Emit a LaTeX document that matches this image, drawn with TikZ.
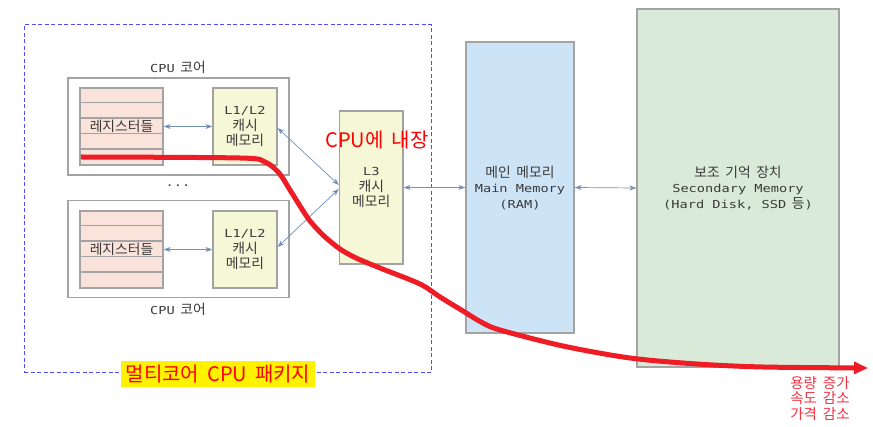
\documentclass[tikz,border=0pt]{standalone}
\usepackage{fontspec}
\setmainfont{DejaVu Sans}
\newfontfamily\kr[WordSpace=2.2]{Noto Sans CJK KR}
\newfontfamily\krbig[WordSpace=1.8]{Noto Sans CJK KR}
\newfontfamily\mn[FakeStretch=1.24]{DejaVu Sans Mono}
\newcommand\mnt[1]{{\mn\fontsize{11}{15.5}\selectfont #1}}
\usetikzlibrary{arrows.meta}
\definecolor{boxgray}{HTML}{A3A3A3}
\definecolor{regfill}{HTML}{FAE3DA}
\definecolor{cachefill}{HTML}{F5F7D7}
\definecolor{mainfill}{HTML}{CDE4F7}
\definecolor{secfill}{HTML}{D9EBD8}
\definecolor{txtgray}{HTML}{3A3A3A}
\definecolor{arrblue}{HTML}{7090B8}
\definecolor{dashblue}{HTML}{4D4DFF}
\definecolor{trendred}{HTML}{EE1C25}
\definecolor{lightred}{HTML}{EE3344}
\begin{document}
\begin{tikzpicture}[x=1pt,y=-1pt,
  box/.style={draw=boxgray,line width=1.3pt,rectangle,inner sep=0pt,anchor=center},
  corebox/.style={box,minimum width=221pt,minimum height=97pt},
  regbox/.style={box,fill=regfill,minimum width=83pt,minimum height=77pt},
  cachebox/.style={box,fill=cachefill,text=txtgray,align=center,
    font={\kr\fontsize{13.8}{15.5}\selectfont}},
  memtext/.style={text=txtgray,align=center,font={\kr\fontsize{13.8}{15.5}\selectfont}},
  lbl/.style={text=txtgray,inner sep=0pt,font={\kr\fontsize{13.8}{15.5}\selectfont}},
  pkgbox/.style={draw=dashblue,line width=1pt,dash pattern=on 4pt off 2.5pt,
    minimum width=407pt,minimum height=348pt,inner sep=0pt},
  conn/.style={draw=arrblue,line width=0.7pt,{Stealth[length=7pt,width=5pt]}-{Stealth[length=7pt,width=5pt]}},
  trendline/.style={draw=trendred,line width=5pt,-{Triangle[length=14pt,width=12pt]}},
]
\useasboundingbox (0,0) rectangle (873,427);

% package
\node[pkgbox] (pkg) at (227.5,199) {};

% core 1
\node[corebox] (core1) at (178.5,126.5) {};
\node[regbox] (reg1) at (121.5,126.5) {};
\foreach \i in {1,...,4}
  \draw[draw=boxgray,line width=1.3pt] ([yshift=-15.4*\i pt]reg1.north west) -- ([yshift=-15.4*\i pt]reg1.north east);
\node[lbl] (reg1t) at (121.5,126.5) {레지스터들};
\node[cachebox,minimum width=64pt,minimum height=77pt] (l12a) at (245,126.5) {\mnt{L1/L2}\\캐시\\메모리};

% core 2
\node[corebox] (core2) at (178.5,249.3) {};
\node[regbox] (reg2) at (121.5,249.5) {};
\foreach \i in {1,...,4}
  \draw[draw=boxgray,line width=1.3pt] ([yshift=-15.4*\i pt]reg2.north west) -- ([yshift=-15.4*\i pt]reg2.north east);
\node[lbl] (reg2t) at (121.5,249.5) {레지스터들};
\node[cachebox,minimum width=64pt,minimum height=77pt] (l12b) at (245,249.5) {\mnt{L1/L2}\\캐시\\메모리};

% labels
\node[lbl] (core1t) at (178,67) {\mnt{CPU} 코어};
\node[lbl] (core2t) at (178,309) {\mnt{CPU} 코어};
\node[lbl] (dots) at (178,186) {\mnt{...}};

% L3
\node[cachebox,minimum width=63.5pt,minimum height=153pt] (l3) at (371.25,187.5) {\mnt{L3}\\캐시\\메모리};

% main memory
\node[box,fill=mainfill,minimum width=108pt,minimum height=291pt] (main) at (520,187.5) {};
\node[memtext] (maint) at (520,188) {메인 메모리\\\mnt{Main Memory}\\\mnt{(RAM)}};

% secondary
\node[box,fill=secfill,minimum width=202pt,minimum height=358pt] (sec) at (738,188) {};
\node[memtext] (sect) at (738,188) {보조 기억 장치\\\mnt{Secondary Memory}\\\mnt{(Hard Disk, SSD} 등\mnt{)}};

% connectors
\draw[conn] (reg1.east) -- (l12a.west);
\draw[conn] (reg2.east) -- (l12b.west);
\draw[conn] ([yshift=-1.5pt]l12a.east) -- ([yshift=2.5pt]l3.west);
\draw[conn] ([yshift=-1.5pt]l3.west) -- ([yshift=2.5pt]l12b.east);
\draw[conn] (l3.east) -- (main.west);
\draw[conn] (main.east) -- (sec.west);

% embedded label
\node[text=red,inner sep=0pt,font={\krbig\fontsize{20}{24}\selectfont}] (emb) at (377,140) {CPU에 내장};

% trend curve
\coordinate (rs) at (81,157);
\coordinate (re) at (868,368);
\draw[trendline] plot[smooth,tension=0.5] coordinates {(rs) (240,158) (265,162) (279,173) (290,190) (300,206) (310,221) (324,236) (340,249) (356,258) (380,268) (420,284) (440,297) (463,311) (481,322) (500,330) (563,346) (630,358) (697,364) (763,367) (re)};

% package label
\node[fill=yellow,text=red,inner sep=0pt,minimum width=194pt,minimum height=26pt,font={\krbig\fontsize{20}{24}\selectfont}] (pkgt) at (218,374) {멀티코어 CPU 패키지};

% trend text
\node[text=lightred,align=center,inner sep=0pt,font={\kr\fontsize{14.5}{15.5}\selectfont}] (trend) at (820,398.5) {용량 증가\\속도 감소\\가격 감소};
\end{tikzpicture}
\end{document}
